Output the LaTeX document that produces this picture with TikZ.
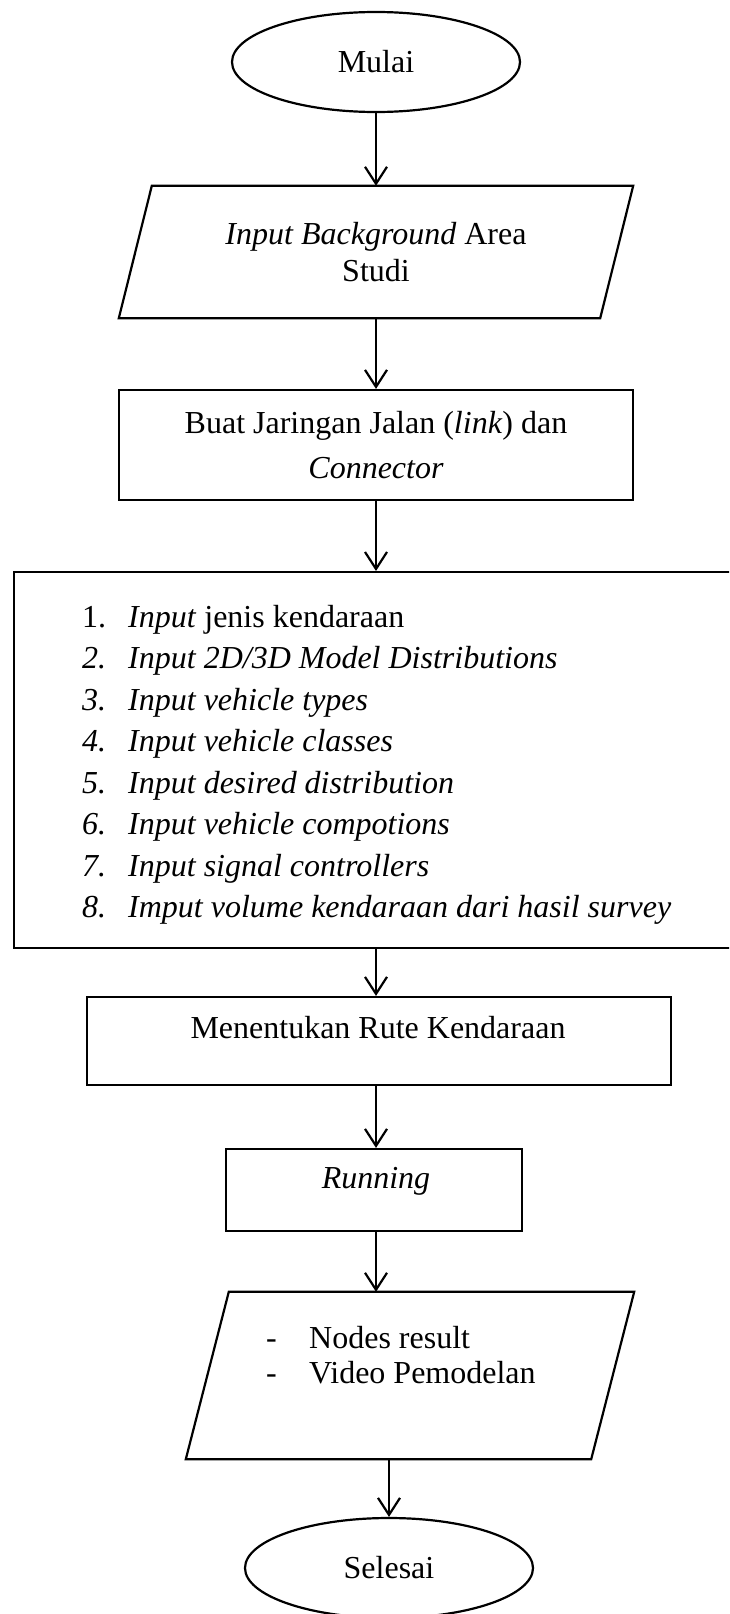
\documentclass[tikz,border=0pt]{standalone}
\usepackage{fontspec}
\setmainfont{Liberation Serif}
\usetikzlibrary{shapes.geometric,arrows.meta,positioning}

\tikzset{
    box/.style={draw, line width=2.2pt, rectangle, inner sep=0pt, align=center, font=\fontsize{32}{37}\selectfont},
    term/.style={draw, line width=2.2pt, ellipse, inner sep=0pt, minimum width=288pt, minimum height=100pt, font=\fontsize{32}{37}\selectfont},
    io/.style={rectangle, inner sep=0pt, align=center, font=\fontsize{32}{37}\selectfont},
    txt/.style={inner sep=0pt, font=\fontsize{32}{37}\selectfont},
    garis/.style={line width=2.2pt, line join=miter},
    arr/.style={line width=2.2pt, -{Straight Barb[length=17pt,width=22pt]}}
}

\begin{document}
\begin{tikzpicture}[x=1pt,y=-1pt]
    \useasboundingbox (0,0) rectangle (729,1614);
    \clip (0,0) rectangle (729,1614);
    \node[term] (mulai) at (376,62) {Mulai};
    \node[io, minimum width=514pt, minimum height=132pt] (bg) at (376,252) {\textit{Input Background} Area\\Studi};
    \draw[garis] ([xshift=33pt]bg.north west) -- (bg.north east) -- ([xshift=-33pt]bg.south east) -- (bg.south west) -- cycle;
    \node[box, minimum width=514pt, minimum height=110pt, font=\fontsize{32}{45}\selectfont] (buat) at (376,445) {Buat Jaringan Jalan (\textit{link}) dan\\\textit{Connector}};
    % kotak input data vissim
    \node[box, anchor=north west, minimum width=760pt, minimum height=376pt] (input) at (13,571) {};
    \foreach \n/\t [count=\i] in {1./{\textit{Input} jenis kendaraan},
            {\textit{2.}}/{\textit{Input 2D/3D Model Distributions}},
            {\textit{3.}}/{\textit{Input vehicle types}},
            {\textit{4.}}/{\textit{Input vehicle classes}},
            {\textit{5.}}/{\textit{Input desired distribution}},
            {\textit{6.}}/{\textit{Input vehicle compotions}},
            {\textit{7.}}/{\textit{Input signal controllers}},
            {\textit{8.}}/{\textit{Imput volume kendaraan dari hasil survey}}} {
        \node[txt, anchor=base west] (num\i) at (82,{627+41.5*(\i-1)}) {\n};
        \node[txt, anchor=base west] (item\i) at (128,{627+41.5*(\i-1)}) {\t};
    }
    \node[box, minimum width=584pt, minimum height=88pt] (rute) at (379,1041) {};
    \node[txt, anchor=base] (rutetxt) at (378,1038) {Menentukan Rute Kendaraan};
    \node[box, minimum width=296pt, minimum height=82pt] (run) at (374,1190) {};
    \node[txt, anchor=base] (runtxt) at (376,1188) {\textit{Running}};
    \node[io, minimum width=448pt, minimum height=167pt] (hasil) at (410,1375.5) {};
    \draw[garis] ([xshift=43pt]hasil.north west) -- (hasil.north east) -- ([xshift=-43pt]hasil.south east) -- (hasil.south west) -- cycle;
    \node[txt, anchor=base west] (dash1) at (266,1348) {-};
    \node[txt, anchor=base west] (hasil1) at (309,1348) {Nodes result};
    \node[txt, anchor=base west] (dash2) at (266,1383) {-};
    \node[txt, anchor=base west] (hasil2) at (309,1383) {Video Pemodelan};
    \node[term] (selesai) at (389,1568) {Selesai};

    \draw[arr] (mulai) -- (mulai |- bg.north);
    \draw[arr] (mulai |- bg.south) -- (buat);
    \draw[arr] (buat) -- (buat |- input.north);
    \draw[arr] (buat |- input.south) -- (buat |- rute.north);
    \draw[arr] (buat |- rute.south) -- (buat |- run.north);
    \draw[arr] (buat |- run.south) -- (buat |- hasil.north);
    \draw[arr] (selesai |- hasil.south) -- (selesai);
\end{tikzpicture}
\end{document}
